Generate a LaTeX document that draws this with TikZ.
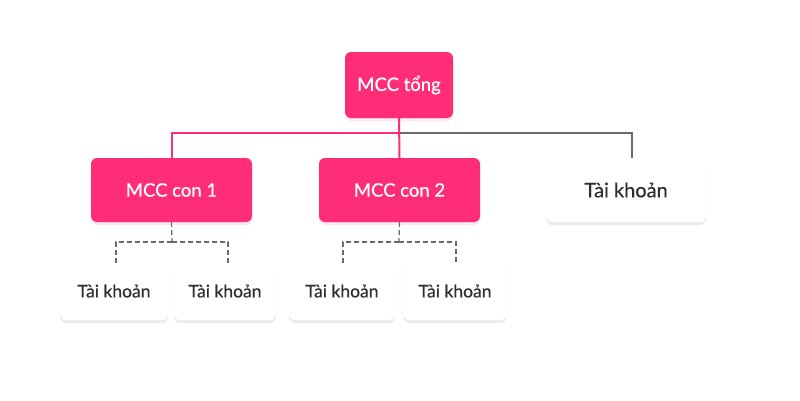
\documentclass[tikz,border=0pt]{standalone}
\usepackage{fontspec}
\setmainfont{Lato}
\usetikzlibrary{shadows}
\definecolor{mccpink}{HTML}{FF2D78}
\definecolor{lnggray}{HTML}{6A6A6A}
\definecolor{txtgray}{HTML}{2E2E2E}
\tikzset{
  pinkbox/.style={fill=mccpink, rounded corners=6pt, text=white, inner sep=0pt,
    font=\fontsize{18.5}{20}\selectfont\addfontfeature{FakeBold=0.8},
    drop shadow={shadow xshift=0pt, shadow yshift=-3pt, opacity=0.12, fill=mccpink}},
  whitebox/.style={fill=white, rounded corners=6pt, text=txtgray, inner sep=0pt,
    drop shadow={shadow xshift=0pt, shadow yshift=-3pt, opacity=0.08, fill=black}},
  pinkline/.style={draw=mccpink, line width=2pt},
  grayline/.style={draw=lnggray, line width=2pt},
  dashline/.style={draw=lnggray, line width=1.2pt, dash pattern=on 5pt off 3pt},
  bigtxt/.style={font=\fontsize{20}{22}\selectfont\addfontfeature{FakeBold=0.4}},
  smalltxt/.style={font=\fontsize{17.5}{19}\selectfont\addfontfeature{FakeBold=0.4}},
}
\begin{document}
\begin{tikzpicture}[x=1pt,y=-1pt]
\useasboundingbox[fill=white] (0,0) rectangle (800,400);
% nodes
\node[pinkbox, minimum width=108pt, minimum height=66pt] (top) at (399,85) {MCC tổng};
\node[pinkbox, minimum width=161pt, minimum height=64pt] (c1) at (171.5,190) {MCC con 1};
\node[pinkbox, minimum width=161pt, minimum height=64pt] (c2) at (399.5,190) {MCC con 2};
\node[whitebox, bigtxt, minimum width=160pt, minimum height=64pt] (r) at (626,190) {Tài khoản};
\node[whitebox, smalltxt, minimum width=108pt, minimum height=58pt] (a1) at (114,291) {Tài khoản};
\node[whitebox, smalltxt, minimum width=102pt, minimum height=58pt] (a2) at (225,291) {Tài khoản};
\node[whitebox, smalltxt, minimum width=106pt, minimum height=58pt] (a3) at (342,291) {Tài khoản};
\node[whitebox, smalltxt, minimum width=103pt, minimum height=58pt] (a4) at (455,291) {Tài khoản};
% coordinates
\coordinate (j) at (400,133);
\coordinate (j1) at (172,242);
\coordinate (j2) at (399,242);
% solid connectors
\draw[grayline] (j) -| ([xshift=6pt]r.north);
\draw[pinkline] (top.south) -- (c2.north);
\draw[pinkline] (j) -| ([xshift=0.5pt]c1.north);
% dashed connectors
\draw[dashline] (c1.south) -- (j1);
\draw[dashline] (j1) -| ([yshift=-2pt,xshift=2pt]a1.north);
\draw[dashline] (j1) -| ([yshift=-2pt,xshift=3pt]a2.north);
\draw[dashline] (c2.south) -- (j2);
\draw[dashline] (j2) -| ([yshift=-2pt,xshift=1pt]a3.north);
\draw[dashline] (j2) -| ([yshift=-2pt,xshift=1pt]a4.north);
\end{tikzpicture}
\end{document}
